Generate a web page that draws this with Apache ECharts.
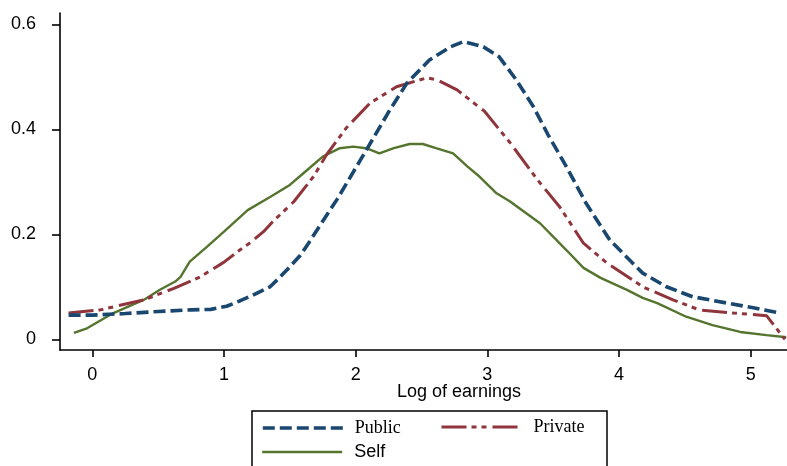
<!DOCTYPE html>
<html>
<head>
<meta charset="utf-8">
<style>html,body{margin:0;padding:0;background:#fff}#c{width:787px;height:466px}</style>
<script src="https://cdn.jsdelivr.net/npm/echarts@6/dist/echarts.min.js"></script>
</head>
<body>
<div id="c"></div>
<script>
var xTicks = [0, 1, 2, 3, 4, 5];
var yTicks = [0, 0.2, 0.4, 0.6];
var seriesNames = ['Public', 'Private', 'Self'];
var xTitle = 'Log of earnings';

var publicX = [-0.18, 0.0, 0.25, 0.5, 0.75, 0.9, 1.02, 1.12, 1.22, 1.35, 1.42, 1.50, 1.58, 1.65, 1.74, 1.86, 2.08, 2.26, 2.39, 2.56, 2.72, 2.82, 2.97, 3.09, 3.22, 3.35, 3.46, 3.60, 3.75, 3.93, 4.18, 4.36, 4.56, 4.82, 5.02, 5.22];
var publicY = [0.046, 0.046, 0.049, 0.053, 0.056, 0.057, 0.063, 0.073, 0.084, 0.10, 0.117, 0.138, 0.16, 0.186, 0.221, 0.267, 0.36, 0.437, 0.488, 0.532, 0.557, 0.567, 0.557, 0.538, 0.494, 0.443, 0.39, 0.329, 0.259, 0.189, 0.126, 0.10, 0.081, 0.069, 0.06, 0.05];

var privateX = [-0.18, 0.06, 0.39, 0.62, 0.82, 1.0, 1.12, 1.2, 1.30, 1.37, 1.53, 1.68, 1.78, 1.93, 2.11, 2.31, 2.54, 2.62, 2.77, 2.98, 3.18, 3.38, 3.55, 3.73, 3.91, 4.18, 4.41, 4.61, 4.87, 5.12, 5.26];
var privateY = [0.05, 0.056, 0.075, 0.097, 0.119, 0.147, 0.17, 0.184, 0.205, 0.224, 0.262, 0.31, 0.352, 0.403, 0.45, 0.481, 0.498, 0.494, 0.475, 0.434, 0.372, 0.304, 0.252, 0.183, 0.145, 0.10, 0.075, 0.056, 0.05, 0.045, 0.0];

var selfX = [-0.14, -0.04, 0.16, 0.39, 0.51, 0.63, 0.67, 0.74, 0.87, 1.0, 1.18, 1.35, 1.50, 1.63, 1.75, 1.88, 1.98, 2.08, 2.18, 2.29, 2.41, 2.51, 2.61, 2.74, 2.85, 2.94, 3.07, 3.17, 3.40, 3.60, 3.73, 3.86, 4.06, 4.18, 4.29, 4.51, 4.71, 4.92, 5.12, 5.27];
var selfY = [0.012, 0.021, 0.05, 0.075, 0.094, 0.11, 0.119, 0.148, 0.176, 0.205, 0.246, 0.271, 0.294, 0.322, 0.348, 0.364, 0.367, 0.364, 0.354, 0.364, 0.372, 0.372, 0.364, 0.354, 0.329, 0.31, 0.278, 0.263, 0.221, 0.17, 0.136, 0.117, 0.094, 0.079, 0.069, 0.043, 0.027, 0.014, 0.008, 0.004];

function pairs(xs, ys) { return xs.map(function (x, i) { return [x, ys[i]]; }); }

var chart = echarts.init(document.getElementById('c'), null, {renderer: 'canvas'});
var sans = '"Liberation Sans", Arial, sans-serif';
var serif = '"Liberation Serif", "Times New Roman", serif';

var styles = [
  {color: '#1a476f', width: 3.6, type: [12, 5]},
  {color: '#90353b', width: 3, type: [25, 5, 5, 5, 5, 6]},
  {color: '#55752f', width: 2.4, type: 'solid'}
];

function legendItem(i, left, top, font) {
  return {
    data: [seriesNames[i]], left: left, top: top, padding: 0, orient: 'horizontal',
    itemWidth: 80, itemHeight: 18, selectedMode: false,
    itemStyle: {opacity: 0},
    lineStyle: {color: styles[i].color, width: styles[i].width, type: styles[i].type},
    textStyle: {fontFamily: font, fontSize: 18, color: '#000', padding: [3, 0, 0, 7]}
  };
}

chart.setOption({
  animation: false,
  backgroundColor: '#fff',
  grid: {left: 60, right: 0, top: 13, bottom: 116, containLabel: false},
  xAxis: {
    type: 'value', min: -0.2453, max: 5.2757,
    axisLine: {onZero: false, lineStyle: {color: '#000', width: 1.6}},
    axisTick: {length: 7, lineStyle: {color: '#000', width: 1.6}, customValues: xTicks},
    axisLabel: {customValues: xTicks, margin: 16, fontFamily: sans, fontSize: 18, color: '#000'},
    splitLine: {show: false}
  },
  yAxis: {
    type: 'value', min: -0.0204, max: 0.6215,
    axisLine: {show: true, onZero: false, lineStyle: {color: '#000', width: 1.6}},
    axisTick: {show: true, length: 8, lineStyle: {color: '#000', width: 1.6}, customValues: yTicks},
    axisLabel: {customValues: yTicks, margin: 24, fontFamily: sans, fontSize: 18, color: '#000',
      formatter: function (v) { return Math.abs(v) < 1e-9 ? '0' : v.toFixed(1); }},
    splitLine: {show: false}
  },
  legend: [
    legendItem(0, 261, 419, serif),
    legendItem(1, 440, 418, serif),
    legendItem(2, 261, 443, sans)
  ],
  graphic: [
    {type: 'rect', shape: {x: 252, y: 411, width: 355, height: 80}, style: {fill: 'none', stroke: '#000', lineWidth: 1.5}, silent: true},
    {type: 'text', x: 459, y: 392, style: {text: xTitle, font: '18px ' + sans, fill: '#000', textAlign: 'center', textVerticalAlign: 'middle'}}
  ],
  series: [
    {name: seriesNames[0], type: 'line', symbol: 'none', showSymbol: false, data: pairs(publicX, publicY),
      lineStyle: styles[0], itemStyle: {color: styles[0].color}, z: 3},
    {name: seriesNames[1], type: 'line', symbol: 'none', showSymbol: false, data: pairs(privateX, privateY),
      lineStyle: styles[1], itemStyle: {color: styles[1].color}, z: 2},
    {name: seriesNames[2], type: 'line', symbol: 'none', showSymbol: false, data: pairs(selfX, selfY),
      lineStyle: styles[2], itemStyle: {color: styles[2].color}, z: 1}
  ]
});
</script>
</body>
</html>
